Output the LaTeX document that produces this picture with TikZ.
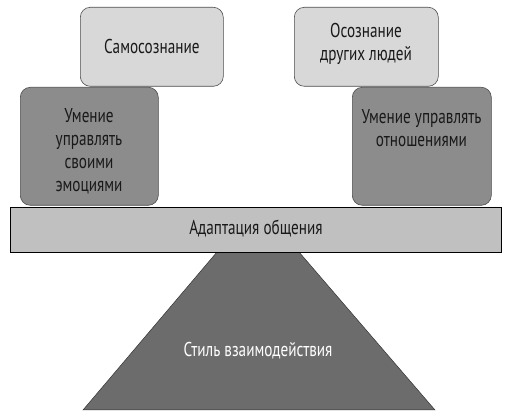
\documentclass[tikz,border=0pt]{standalone}
\usepackage{fontspec}
\setmainfont{PT Sans}[FakeStretch=0.76]
\definecolor{toplight}{RGB}{216,216,216}
\definecolor{darkbox}{RGB}{140,140,140}
\definecolor{barcol}{RGB}{192,192,192}
\definecolor{trapcol}{RGB}{108,108,108}
\begin{document}
\begin{tikzpicture}[x=1pt,y=-1pt]
\useasboundingbox (0,0) rectangle (509,419);
\tikzset{
  topbox/.style={draw=black!70, fill=toplight, rounded corners=10pt, line width=0.6pt, anchor=north west, inner sep=0},
  dbox/.style={draw=black!70, fill=darkbox, rounded corners=10pt, line width=0.6pt, anchor=north west, inner sep=0},
  lbl/.style={font=\fontsize{20}{23}\selectfont, align=center, inner sep=0, text=black!90},
}
% base
\draw[fill=trapcol, draw=black!80, line width=0.5pt] (217,252) coordinate (t1) -- (299,252) coordinate (t2) -- (435,410) coordinate (t3) -- (83,410) coordinate (t4) -- cycle;
\node[lbl, text=white] (style) at (258,351) {Стиль взаимодействия};
% bar
\node[draw=black, fill=barcol, line width=1pt, anchor=north west, minimum width=491pt, minimum height=45pt, inner sep=0] (bar) at (10,207) {};
\node[lbl] (bart) at (256,229) {Адаптация общения};
% top boxes
\node[topbox, minimum width=143pt, minimum height=79pt] (self) at (80,7) {};
\node[lbl] (selft) at (self.center) {Самосознание};
\node[topbox, minimum width=144pt, minimum height=79pt] (other) at (294,7) {};
\node[lbl] (othert) at (366,44) {Осознание\\других людей};
% dark boxes
\node[dbox, minimum width=138pt, minimum height=118pt] (emo) at (20,87) {};
\node[lbl] (emot) at (89,151) {Умение\\управлять\\своими\\эмоциями};
\node[dbox, minimum width=139pt, minimum height=118pt] (rel) at (352,87) {};
\node[lbl] (relt) at (421.5,128) {Умение управлять\\отношениями};
\end{tikzpicture}
\end{document}
